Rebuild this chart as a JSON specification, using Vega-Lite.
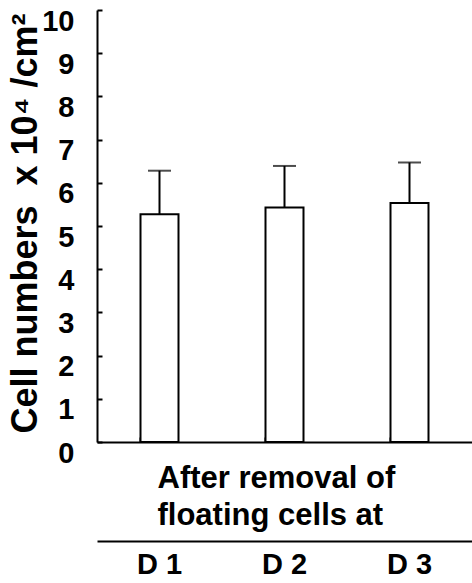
{
  "$schema": "https://vega.github.io/schema/vega-lite/v6.json",
  "width": 375,
  "height": 432,
  "autosize": "none",
  "padding": {"left": 97, "top": 10, "right": 0, "bottom": 141},
  "background": "white",
  "config": {
    "view": {"stroke": null},
    "font": "Liberation Sans",
    "axis": {"domainColor": "black", "domainWidth": 2, "tickColor": "black", "tickWidth": 2, "labelColor": "black", "titleColor": "black", "labelFontWeight": "bold", "titleFontWeight": "bold", "grid": false}
  },
  "data": {
    "values": [
      {"day": "D 1", "mean": 5.27, "upper": 6.28},
      {"day": "D 2", "mean": 5.43, "upper": 6.39},
      {"day": "D 3", "mean": 5.53, "upper": 6.47}
    ]
  },
  "resolve": {"axis": {"x": "independent"}},
  "layer": [
    {
      "mark": {"type": "bar", "fill": "white", "stroke": "black", "strokeWidth": 2, "width": 38},
      "encoding": {
        "x": {
          "field": "day", "type": "nominal", "sort": null,
          "scale": {"paddingInner": 0.7, "paddingOuter": 0.35},
          "axis": {"orient": "bottom", "labels": false, "ticks": true, "bandPosition": 0, "tickSize": -5,
                   "title": ["After removal of", "floating cells at"], "titleFontSize": 31, "titleLineHeight": 37,
                   "titleAlign": "left", "titleAnchor": "start", "titleX": 60, "titleY": 21, "titleBaseline": "top"}
        },
        "y": {
          "field": "mean", "type": "quantitative",
          "scale": {"domain": [0, 10], "nice": false, "zero": true},
          "axis": {"values": [0,1,2,3,4,5,6,7,8,9,10], "tickSize": -5, "labelFontSize": 29, "labelOffset": 11, "labelPadding": 28,
                   "title": "Cell numbers\u00a0\u00a0x 10\u2074 /cm\u00b2", "titleFontSize": 36, "titleAngle": -90,
                   "titleX": -72, "titleY": 213, "titleAlign": "center", "titleBaseline": "middle"}
        }
      }
    },
    {
      "mark": {"type": "rule", "stroke": "black", "strokeWidth": 2},
      "encoding": {
        "x": {"field": "day", "type": "nominal", "sort": null,
              "axis": {"orient": "bottom", "offset": 99, "ticks": false, "labelFontSize": 29, "labelPadding": 9, "title": null, "labelAngle": 0}},
        "y": {"field": "mean", "type": "quantitative"},
        "y2": {"field": "upper"}
      }
    },
    {
      "mark": {"type": "tick", "color": "black", "thickness": 2, "size": 23, "orient": "horizontal"},
      "encoding": {
        "x": {"field": "day", "type": "nominal", "sort": null, "axis": null},
        "y": {"field": "upper", "type": "quantitative"}
      }
    }
  ]
}
